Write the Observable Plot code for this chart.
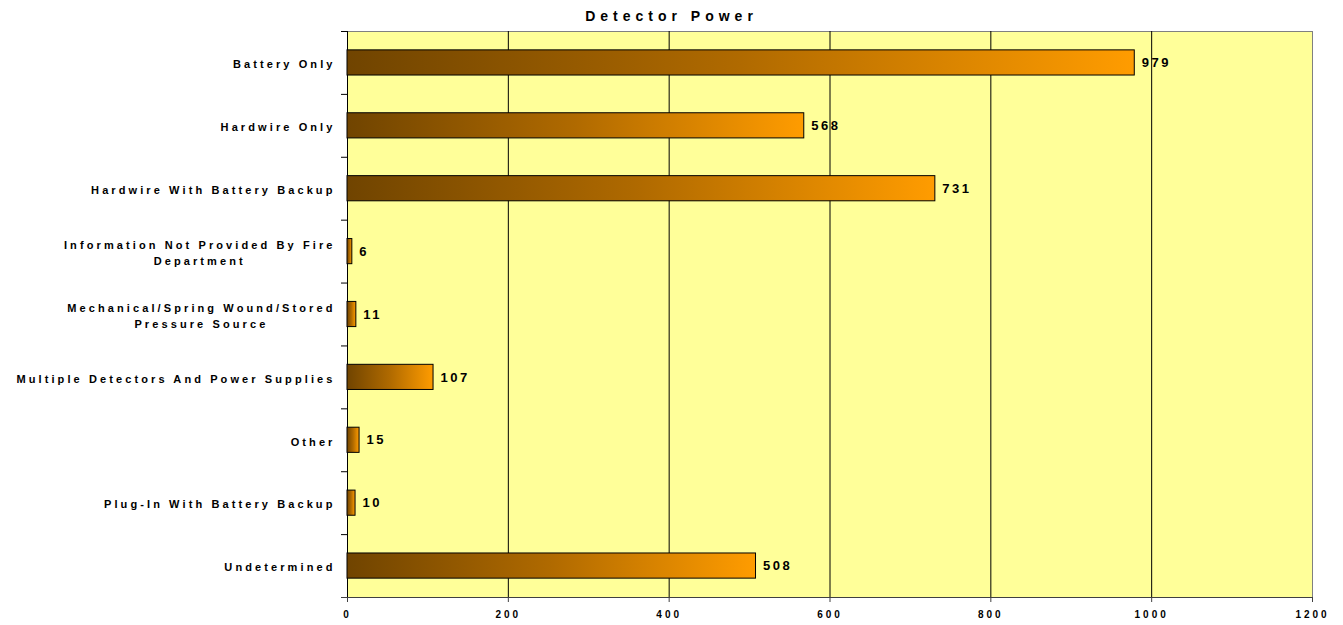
<!DOCTYPE html>
<html><head><meta charset="utf-8">
<script src="https://cdn.jsdelivr.net/npm/d3@7"></script>
<script src="https://cdn.jsdelivr.net/npm/@observablehq/plot@0.6"></script>
<style>
body{margin:0;background:#fff;font-family:"Liberation Sans",Arial,sans-serif;}
#wrap{position:relative;width:1343px;height:625px;}
#title{position:absolute;left:0;top:8px;width:1343px;text-align:center;font-weight:bold;font-size:14px;letter-spacing:5px;color:#000;}
#chart svg{display:block;}
g[aria-label="y-axis tick label"] text{letter-spacing:3.1px;}
g[aria-label="x-axis tick label"] text{letter-spacing:3px;}
g[aria-label="text"] text{letter-spacing:2.5px;}
</style></head>
<body>
<svg width="0" height="0" style="position:absolute"><defs>
<linearGradient id="barGrad" x1="0" x2="1" y1="0" y2="0">
<stop offset="0" stop-color="#704400"/><stop offset="0.5" stop-color="#b06a00"/><stop offset="1" stop-color="#ff9c00"/>
</linearGradient></defs></svg>
<div id="wrap"><div id="title"></div><div id="chart"></div></div>
<script>
const title = "Detector Power";
const categories = [
  "Battery Only",
  "Hardwire Only",
  "Hardwire With Battery Backup",
  "Information Not Provided By Fire\nDepartment",
  "Mechanical/Spring Wound/Stored\nPressure Source",
  "Multiple Detectors And Power Supplies",
  "Other",
  "Plug-In With Battery Backup",
  "Undetermined"
];
const values = [979, 568, 731, 6, 11, 107, 15, 10, 508];
const xTicks = [0, 200, 400, 600, 800, 1000, 1200];

document.getElementById("title").textContent = title;
const data = categories.map((c, i) => ({category: c, value: values[i]}));

const W = 1343, H = 625, mt = 31, mb = 28;
const step = (H - mt - mb) / categories.length;

const chart = Plot.plot({
  width: W, height: H,
  marginTop: mt, marginBottom: mb, marginLeft: 347, marginRight: 31,
  style: {fontFamily: '"Liberation Sans", Arial, sans-serif', background: "transparent", color: "#000", overflow: "visible"},
  x: {domain: [0, 1200], label: null},
  y: {domain: categories, paddingInner: 0.6, paddingOuter: 0.3, round: false, label: null},
  marks: [
    Plot.frame({fill: "#ffff99", stroke: "#808080"}),
    Plot.gridX(xTicks.filter(t => t > 0 && t < 1200), {stroke: "#000", strokeOpacity: 1}),
    Plot.frame({anchor: "left", stroke: "#000"}),
    Plot.frame({anchor: "bottom", stroke: "#404040"}),
    Plot.barX(data, {y: "category", x: "value", fill: "url(#barGrad)", stroke: "#000", strokeWidth: 1}),
    Plot.text(data, {y: "category", x: "value", text: d => String(d.value), dx: 7, textAnchor: "start", fontWeight: "bold", fontSize: 13, fill: "#000"}),
    Plot.axisX(xTicks, {tickSize: 5, tickPadding: 8, tickFormat: d => String(d), fontWeight: "bold", fontSize: 10, stroke: "#404040", fill: "#000", label: null}),
    Plot.axisY({tickSize: 6, fill: "none", stroke: "#000", dy: -step / 2, label: null}),
    Plot.axisY([categories[categories.length - 1]], {tickSize: 6, fill: "none", stroke: "#404040", dy: step / 2, label: null}),
    Plot.axisY({tickSize: 0, tickPadding: 12, fontWeight: "bold", fontSize: 11, lineHeight: 1.5, fill: "#000", label: null})
  ]
});
document.getElementById("chart").appendChild(chart);

// center multi-line category labels within their block (as in the reference)
chart.querySelectorAll('g[aria-label="y-axis tick label"] text').forEach(t => {
  const spans = t.querySelectorAll("tspan");
  if (spans.length > 1) {
    const w = t.getBBox().width;
    t.setAttribute("text-anchor", "middle");
    spans.forEach(s => s.setAttribute("x", -w / 2));
  }
});
</script>
</body></html>
